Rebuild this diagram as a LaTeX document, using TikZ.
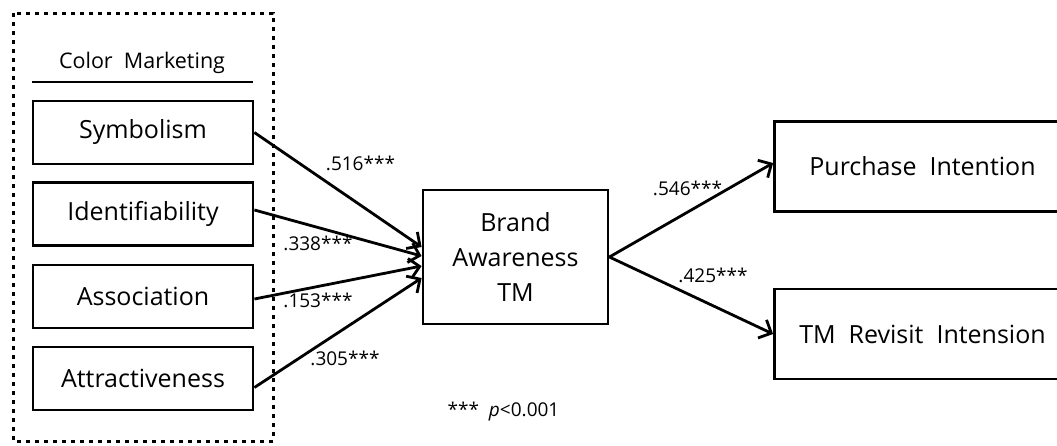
\documentclass[tikz,border=0pt]{standalone}
\usepackage{fontspec}
\setmainfont{Open Sans}
\usetikzlibrary{arrows.meta}
\begin{document}
\begin{tikzpicture}[x=1pt,y=-1pt,
  box/.style={draw,line width=2.8pt,inner sep=0pt,align=center,font=\fontsize{25}{35}\selectfont},
  conn/.style={line width=2.8pt,-{Straight Barb[length=10pt,width=20pt,line width=2.8pt]}},
  lab/.style={inner sep=0pt,font=\fontsize{19}{21}\selectfont}]
\useasboundingbox (0,0) rectangle (1057,445);
\clip (0,0) rectangle (1057,445);
\draw[line width=3pt, dash pattern=on 4pt off 5pt] (13,13) rectangle (273,441);
\node[inner sep=0pt,font=\fontsize{21.5}{24}\selectfont] (cm) at (142,63) {Color\ \ Marketing};
\draw[line width=2.8pt] (32,82) -- (253,82);
\node[box,minimum width=220pt,minimum height=63pt] (sym) at (143,132.5) {Symbolism};
\node[box,minimum width=220pt,minimum height=63pt] (ide) at (143,214) {Identifiability};
\node[box,minimum width=220pt,minimum height=63pt] (ass) at (143,296.5) {Association};
\node[box,minimum width=220pt,minimum height=63pt] (att) at (143,378.5) {Attractiveness};
\node[box,minimum width=185pt,minimum height=134pt] (bra) at (515.5,257) {Brand\\Awareness\\TM};
\node[box,minimum width=296pt,minimum height=90pt] (pur) at (922.5,166.5) {Purchase\ \ Intention};
\node[box,minimum width=296pt,minimum height=90pt] (tmr) at (922.5,334) {TM\ \ Revisit\ \ Intension};
\draw[conn] (sym.east) -- ([yshift=10pt]bra.west);
\draw[conn] ([yshift=4pt]ide.east) -- ([yshift=1pt]bra.west);
\draw[conn] ([yshift=-2.5pt]ass.east) -- ([yshift=-9pt]bra.west);
\draw[conn] ([yshift=-9pt]att.east) -- ([yshift=-21pt]bra.west);
\draw[conn] (bra.east) -- ([yshift=3.5pt]pur.west);
\draw[conn] (bra.east) -- (tmr.west);
\node[lab] (l1) at (360.5,163) {.516***};
\node[lab] (l2) at (318,243) {.338***};
\node[lab] (l3) at (318,300) {.153***};
\node[lab] (l4) at (345,358) {.305***};
\node[lab] (l5) at (687.5,188) {.546***};
\node[lab] (l6) at (713,275) {.425***};
\node[lab] (fn) at (503.5,412) {***\ \ \textit{p}<0.001};
\end{tikzpicture}
\end{document}
